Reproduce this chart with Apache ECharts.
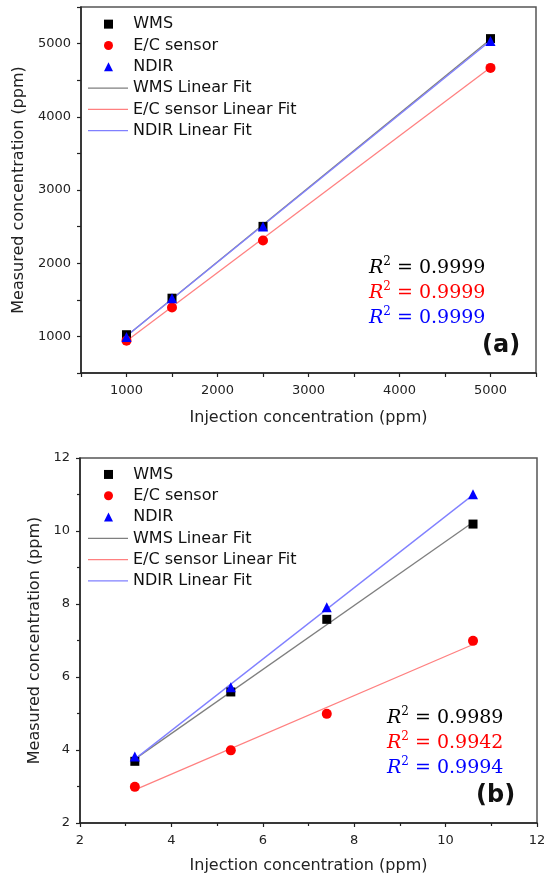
<!DOCTYPE html>
<html lang="en">
<head>
<meta charset="UTF-8">
<title>Linear fit comparison</title>
<script src="https://cdn.jsdelivr.net/npm/echarts@6/dist/echarts.min.js"></script>
<style>
  html, body { margin: 0; padding: 0; background: #fff; }
  #chart { width: 550px; height: 883px; }
</style>
</head>
<body>
<div id="chart"></div>
<script>
// ---- panel (a): high concentration ----
var injA = [1000, 1500, 2500, 5000];
var wmsA = [1023, 1522, 2503, 5068];
var ecA = [942, 1396, 2311, 4668];
var ndirA = [992, 1520, 2503, 5036];
// fit line end points (x = 1000 and x = 5000)
var fitXA = [1000, 5000];
var wmsFitA = [1004, 5060];
var ecFitA = [936, 4673];
var ndirFitA = [1005, 5039];
var r2A = ['0.9999', '0.9999', '0.9999'];

// ---- panel (b): low concentration ----
var injB = [3.2, 5.3, 7.4, 10.6];
var wmsB = [3.69, 5.59, 7.58, 10.19];
var ecB = [2.99, 3.99, 4.99, 6.99];
var ndirB = [3.82, 5.72, 7.91, 11.01];
var fitXB = [3.2, 10.6];
var wmsFitB = [3.75, 10.24];
var ecFitB = [2.91, 6.89];
var ndirFitB = [3.75, 10.99];
var r2B = ['0.9989', '0.9942', '0.9994'];

var markNames = ['WMS', 'E/C sensor', 'NDIR'];
var fitNames = ['WMS Linear Fit', 'E/C sensor Linear Fit', 'NDIR Linear Fit'];
var markColors = ['#000000', '#ff0000', '#0000ff'];
var fitColors = ['#7f7f7f', '#ff8080', '#8080ff'];
var symbols = ['rect', 'circle', 'triangle'];

var sans = 'DejaVu Sans';
var serif = 'DejaVu Serif';
var rowH = 21.3;

function pairs(xs, ys) {
  return xs.map(function (x, i) { return [x, ys[i]]; });
}

function makeAxis(idx, min, max, interval, name, nameGap, isX, labelStep) {
  return {
    type: 'value', gridIndex: idx, min: min, max: max, interval: interval,
    name: name, nameLocation: 'middle', nameGap: nameGap,
    nameTextStyle: { fontFamily: sans, fontSize: 16, color: '#222' },
    axisLine: { show: true, onZero: false, lineStyle: { color: '#222', width: 1.5 } },
    axisTick: { show: true, inside: false, length: 4, lineStyle: { color: '#222', width: 1.2 } },
    minorTick: { show: labelStep == null, splitNumber: 2, length: 3, lineStyle: { color: '#222', width: 1.2 } },
    splitLine: { show: false },
    axisLabel: {
      fontFamily: sans, fontSize: 13, color: '#222', margin: isX ? 11 : 10,
      formatter: function (v) {
        if (labelStep && v % labelStep !== 0) return '';
        return String(v);
      }
    }
  };
}

function seriesFor(k, inj, w, e, n, fx, fw, fe, fn) {
  var out = [];
  [fw, fe, fn].forEach(function (ys, i) {
    out.push({
      name: fitNames[i], type: 'line', xAxisIndex: k, yAxisIndex: k,
      symbol: 'none', showSymbol: false,
      lineStyle: { color: fitColors[i], width: 1.3 },
      itemStyle: { color: fitColors[i] },
      data: pairs(fx, ys), z: 2
    });
  });
  [w, e, n].forEach(function (ys, i) {
    out.push({
      name: markNames[i], type: 'scatter', xAxisIndex: k, yAxisIndex: k,
      symbol: symbols[i], symbolSize: i === 0 ? 9 : 10,
      itemStyle: { color: markColors[i], opacity: 1 },
      data: pairs(inj, ys), z: 3
    });
  });
  return out;
}

// markers: small icon centred at x ~108, text pushed right with spaces
function markLegend(top) {
  return {
    orient: 'vertical', left: 104, top: top, padding: 0,
    itemWidth: 9, itemHeight: 9, itemGap: 0,
    data: markNames,
    formatter: function (n) { return '   ' + n; },
    textStyle: { fontFamily: sans, fontSize: 16, color: '#111', lineHeight: rowH },
    selectedMode: false
  };
}

function fitLegend(top) {
  return {
    orient: 'vertical', left: 88, top: top, padding: 0,
    itemWidth: 40, itemHeight: 1.3, itemGap: 0,
    data: fitNames.map(function (n) { return { name: n, icon: 'rect' }; }),
    textStyle: { fontFamily: sans, fontSize: 16, color: '#111', lineHeight: rowH },
    selectedMode: false
  };
}

function r2Texts(x, ys, vals, tagX, tagY, tag) {
  var g = [];
  vals.forEach(function (v, i) {
    g.push({
      type: 'text', left: x, top: ys[i],
      style: {
        text: '{r|R}{s|2}{t| = ' + v + '}',
        fill: markColors[i],
        rich: {
          r: { fontFamily: serif, fontStyle: 'italic', fontSize: 19, lineHeight: 24, fill: markColors[i] },
          s: { fontFamily: serif, fontSize: 12, lineHeight: 14, verticalAlign: 'top', fill: markColors[i] },
          t: { fontFamily: serif, fontSize: 19, lineHeight: 24, fill: markColors[i] }
        }
      }
    });
  });
  g.push({
    type: 'text', left: tagX, top: tagY,
    style: { text: tag, fontFamily: sans, fontWeight: 'bold', fontSize: 24, fill: '#111' }
  });
  return g;
}

var chart = echarts.init(document.getElementById('chart'));
chart.setOption({
  animation: false,
  backgroundColor: '#fff',
  grid: [
    { left: 81, right: 14, top: 7, height: 366, show: true, borderColor: '#555', borderWidth: 1.5 },
    { left: 80, right: 13, top: 458, height: 365, show: true, borderColor: '#555', borderWidth: 1.5 }
  ],
  xAxis: [
    makeAxis(0, 500, 5500, 500, 'Injection concentration (ppm)', 37, true, 1000),
    makeAxis(1, 2, 12, 2, 'Injection concentration (ppm)', 35, true, null)
  ],
  yAxis: [
    makeAxis(0, 500, 5500, 500, 'Measured concentration (ppm)', 48, false, 1000),
    makeAxis(1, 2, 12, 2, 'Measured concentration (ppm)', 30, false, null)
  ],
  legend: [
    markLegend(13.5), fitLegend(13.5 + 3 * rowH),
    markLegend(463.8), fitLegend(463.8 + 3 * rowH)
  ],
  series: seriesFor(0, injA, wmsA, ecA, ndirA, fitXA, wmsFitA, ecFitA, ndirFitA)
    .concat(seriesFor(1, injB, wmsB, ecB, ndirB, fitXB, wmsFitB, ecFitB, ndirFitB)),
  graphic: r2Texts(369, [256, 281, 306], r2A, 482, 334, '(a)')
    .concat(r2Texts(387, [706, 731, 756], r2B, 476, 784, '(b)'))
});
</script>
</body>
</html>
